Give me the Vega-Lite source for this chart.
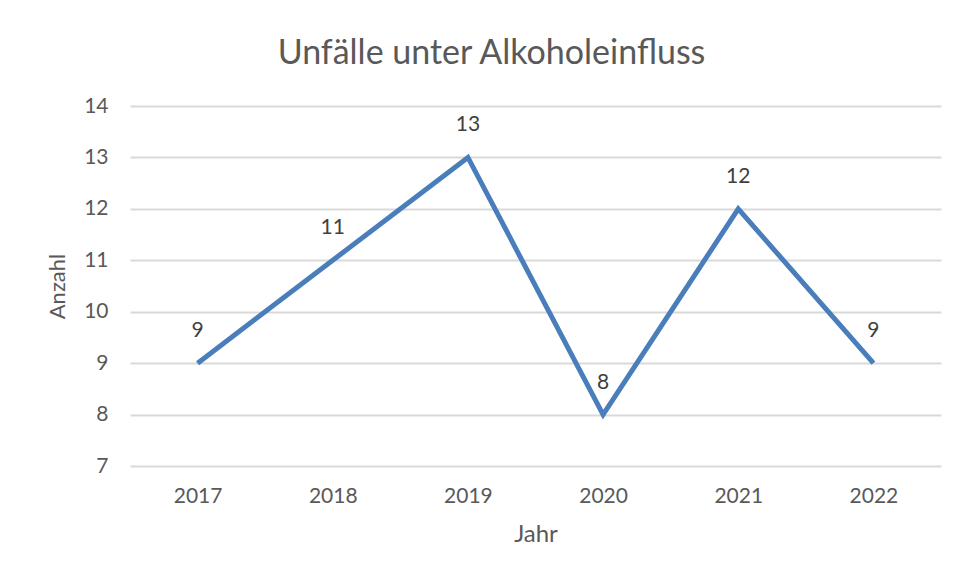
{
  "$schema": "https://vega.github.io/schema/vega-lite/v6.json",
  "autosize": "none",
  "width": 811,
  "height": 360,
  "padding": {"left": 130, "top": 106, "right": 17, "bottom": 115},
  "background": "white",
  "config": {
    "view": {"stroke": null},
    "font": "Lato",
    "axis": {"labelColor": "#595959", "titleColor": "#595959", "labelFont": "Lato", "titleFont": "Lato", "titleFontWeight": "normal"}
  },
  "title": {
    "text": "Unfälle unter Alkoholeinfluss",
    "font": "Lato",
    "fontSize": 34,
    "fontWeight": "normal",
    "color": "#595959",
    "anchor": "middle",
    "dx": -44,
    "offset": 24
  },
  "data": {
    "values": [
      {"Jahr": "2017", "Anzahl": 9},
      {"Jahr": "2018", "Anzahl": 11},
      {"Jahr": "2019", "Anzahl": 13},
      {"Jahr": "2020", "Anzahl": 8},
      {"Jahr": "2021", "Anzahl": 12},
      {"Jahr": "2022", "Anzahl": 9}
    ]
  },
  "encoding": {
    "x": {
      "field": "Jahr", "type": "ordinal", "title": "Jahr",
      "scale": {"paddingInner": 0, "paddingOuter": 0},
      "axis": {"labelAngle": 0, "domain": false, "ticks": false, "grid": false, "labelFontSize": 21, "labelPadding": 19, "titleFontSize": 24, "titlePadding": 16}
    },
    "y": {
      "field": "Anzahl", "type": "quantitative", "title": "Anzahl",
      "scale": {"domain": [7, 14], "nice": false, "zero": false},
      "axis": {"values": [7, 8, 9, 10, 11, 12, 13, 14], "domain": false, "ticks": false, "gridColor": "#d9d9d9", "gridWidth": 2, "labelFontSize": 21, "labelPadding": 22, "titleFontSize": 22, "titlePadding": 14}
    }
  },
  "layer": [
    {"mark": {"type": "line", "color": "#4a7ebb", "strokeWidth": 5, "strokeJoin": "miter"}},
    {"mark": {"type": "text", "dy": -32, "fontSize": 21, "color": "#404040", "font": "Lato"}, "encoding": {"text": {"field": "Anzahl"}}}
  ]
}
